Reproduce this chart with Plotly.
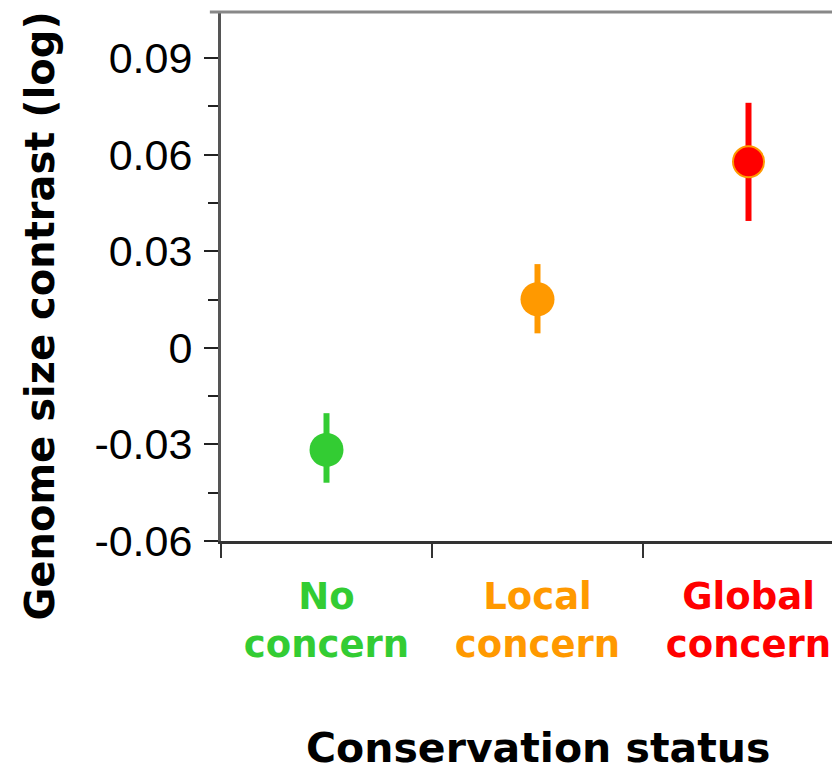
import plotly.graph_objs as go

categories = ["No concern", "Local concern", "Global concern"]
colors = ["#33CC33", "#FF9900", "#FF0000"]
means = [-0.0317, 0.0151, 0.0578]
upper = [-0.0203, 0.0260, 0.0761]
lower = [-0.0419, 0.0045, 0.0394]

y_ticks = [-0.06, -0.03, 0, 0.03, 0.06, 0.09]
y_tick_text = ["-0.06", "-0.03", "0", "0.03", "0.06", "0.09"]

fig = go.Figure()

for i in range(len(categories)):
    outline = colors[i]
    size = 34
    if i == 2:
        # the red point has a thin orange rim in the original
        outline = "#FF9900"
        size = 31
    fig.add_trace(go.Scatter(
        x=[i],
        y=[means[i]],
        mode="markers",
        marker=dict(color=colors[i], size=size, line=dict(color=outline, width=2 if i == 2 else 0)),
        error_y=dict(
            type="data",
            symmetric=False,
            array=[upper[i] - means[i]],
            arrayminus=[means[i] - lower[i]],
            color=colors[i],
            thickness=6,
            width=0,
        ),
        showlegend=False,
    ))

tick_text = []
for name, c in zip(categories, colors):
    parts = name.split(" ")
    tick_text.append("<br>".join(f"<span style='color:{c}'>{p}</span>" for p in parts))

# page body has an 8px margin, so the figure is a bit smaller than the window
fig.update_layout(
    width=832,
    height=763,
    margin=dict(l=213, r=0, t=4, b=230),
    plot_bgcolor="white",
    paper_bgcolor="white",
    xaxis=dict(
        range=[-0.5, -0.5 + 619 / 211],
        tickmode="array",
        tickvals=[0, 1, 2],
        ticktext=tick_text,
        ticks="outside",
        ticklen=21,
        tickcolor="rgba(0,0,0,0)",
        tickfont=dict(family="DejaVu Sans", size=37, weight="bold"),
        minor=dict(tick0=0.5, dtick=1, ticks="outside", ticklen=14, tickwidth=1.5, tickcolor="#333333"),
        showline=True,
        linecolor="#333333",
        linewidth=2.5,
        showgrid=False,
        zeroline=False,
    ),
    yaxis=dict(
        range=[-0.06, 0.1043],
        tickmode="array",
        tickvals=y_ticks,
        ticktext=y_tick_text,
        ticks="outside",
        ticklen=14,
        tickwidth=1.5,
        tickcolor="#222222",
        ticklabelstandoff=3,
        tickfont=dict(family="Liberation Sans, Arial", size=43, color="black"),
        minor=dict(tick0=0, dtick=0.015, ticks="outside", ticklen=10, tickwidth=1.5, tickcolor="#222222"),
        showline=True,
        linecolor="#555555",
        linewidth=3,
        showgrid=False,
        zeroline=False,
    ),
    shapes=[dict(type="line", xref="paper", yref="paper", x0=-0.018, x1=1, y0=1, y1=1,
                 line=dict(color="#888888", width=3))],
    annotations=[
        dict(text="<b>Genome size contrast (log)</b>", xref="paper", yref="paper",
             x=-0.2924, y=0.4244, xanchor="center", yanchor="middle", textangle=-90,
             showarrow=False, font=dict(family="DejaVu Sans", size=40, color="black")),
        dict(text="<b>Conservation status</b>", xref="x", yref="paper",
             x=1, y=-0.391, xanchor="center", yanchor="middle",
             showarrow=False, font=dict(family="DejaVu Sans", size=41, color="black")),
    ],
)

fig.write_html("out.html")
